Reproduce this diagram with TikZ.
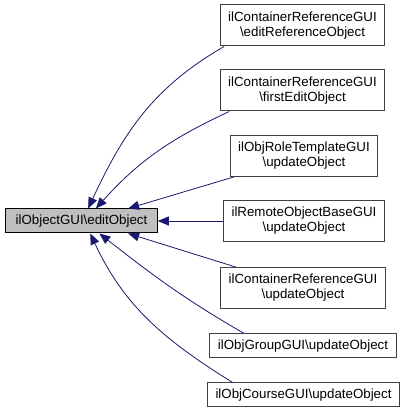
\documentclass[tikz,border=0pt]{standalone}
\usepackage{fontspec}
\setmainfont{Liberation Sans}
\usetikzlibrary{arrows.meta}
\definecolor{edgeblue}{HTML}{191970}
\definecolor{boxgray}{HTML}{BFBFBF}
\definecolor{linegray}{HTML}{404040}

\begin{document}
\begin{tikzpicture}[
  x=1pt,y=1pt,
  font=\fontsize{13.3}{15}\selectfont,
  fn/.style={draw=black,fill=boxgray,line width=1pt,
             inner xsep=10pt,inner ysep=3pt,minimum height=24pt},
  caller/.style={draw=linegray,fill=white,line width=1pt,
             inner xsep=8pt,inner ysep=3pt,minimum height=41pt,align=center},
  caller1/.style={caller,minimum height=24pt},
  arr/.style={-{Triangle[length=11pt,width=9pt]},color=edgeblue,line width=0.8pt}
]
\useasboundingbox (0,0) rectangle (407,415);
% --- the function itself ---
\node[fn](edit) at(81.5,194){ilObjectGUI\textbackslash editObject};
% --- callers ---
\node[caller](crEdit)   at(302.5,389.5){ilContainerReferenceGUI\\\textbackslash editReferenceObject};
\node[caller](crFirst)  at(302.5,324.5){ilContainerReferenceGUI\\\textbackslash firstEditObject};
\node[caller](roleTpl)  at(304,259){ilObjRoleTemplateGUI\\\textbackslash updateObject};
\node[caller](remote)   at(304,194){ilRemoteObjectBaseGUI\\\textbackslash updateObject};
\node[caller](crUpdate) at(303,127){ilContainerReferenceGUI\\\textbackslash updateObject};
\node[caller1](group)   at(303,69){ilObjGroupGUI\textbackslash updateObject};
\node[caller1](course)  at(303.5,20){ilObjCourseGUI\textbackslash updateObject};
% --- call edges ---
\draw[arr](crEdit.195) to[out=210,in=65] (edit.62);
\draw[arr](crFirst.196) to[out=205,in=48] (edit.41);
\draw[arr](roleTpl)--(edit.15);
\draw[arr](remote)--(edit);
\draw[arr](crUpdate)--(edit.-15);
\draw[arr](group.168) to[out=150,in=-38] (edit.-35);
\draw[arr](course.170) to[out=148,in=-65] (edit.-55);
\end{tikzpicture}
\end{document}
